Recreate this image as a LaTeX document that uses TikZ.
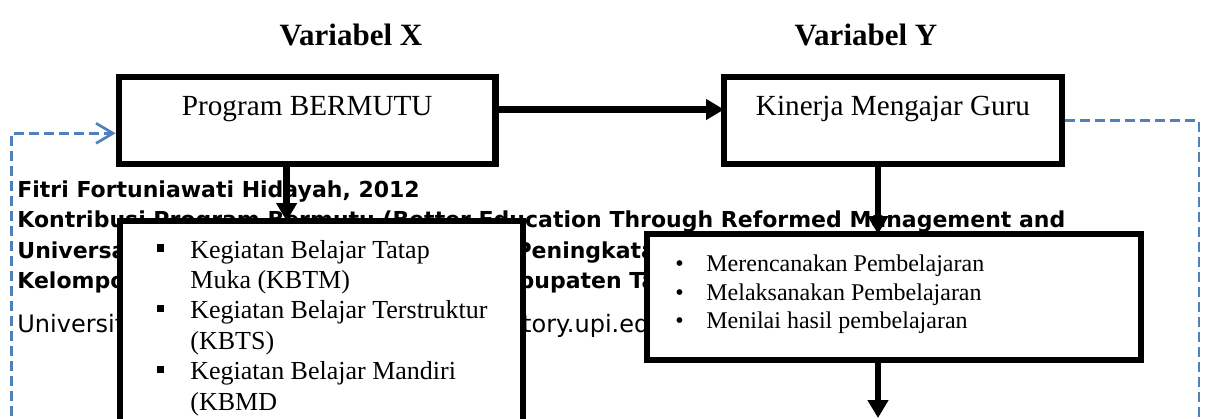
\documentclass[tikz,border=0pt]{standalone}
\usepackage{fontspec}
\setmainfont{Liberation Serif}
\newfontfamily\hurufTanda{DejaVu Sans}
\usetikzlibrary{arrows.meta}
\definecolor{biruPutus}{RGB}{79,129,189}
\newcommand{\kotakKecil}{\rule[3.2pt]{3.65pt}{3.65pt}}

\begin{document}
\begin{tikzpicture}[
  x=0.5pt, y=-0.5pt,
  kotak/.style={draw, line width=3.3pt, fill=white, inner sep=0pt, outer sep=0pt},
  judul/.style={font=\fontsize{15.5}{18}\selectfont\bfseries, anchor=base, inner sep=0pt},
  tanda/.style={font=\hurufTanda\fontsize{11}{13}\selectfont\bfseries, anchor=base west, inner sep=0pt},
  tandaTipis/.style={font=\hurufTanda\fontsize{12}{15}\selectfont, anchor=base west, inner sep=0pt},
  panah/.style={-{Triangle[length=9pt,width=10pt]}, line width=3.3pt},
  umpan/.style={-{Straight Barb[length=8.5pt,width=10pt]}, draw=biruPutus, line width=1.35pt, dash pattern=on 5pt off 2.5pt}
]
\useasboundingbox (0,0) rectangle (1210,418);
\clip (0,0) rectangle (1210,418);

% teks di belakang kotak
\node[tanda] (tanda1) at (17,197) {Fitri Fortuniawati Hidayah, 2012};
\node[tanda] (tanda2) at (17,227) {Kontribusi Program Bermutu (Better Education Through Reformed Management and};
\node[tanda] (tanda3) at (17,258) {Universal Teacher Upgrading) Terhadap Peningkatan Kinerja Mengajar Guru};
\node[tanda] (tanda4) at (17,288) {Kelompok Kerja Guru Sekolah Dasar Di\hspace{-10pt} Kabupaten Tasikmalaya};
\node[tandaTipis] (tanda5) at (17,332) {Universitas Pendidikan Indonesia \hspace{3pt}|\hspace{3pt} repository.upi.edu};

\node[judul] (varX) at (351,45) {Variabel X};
\node[judul] (varY) at (866,45) {Variabel Y};

\node[kotak, minimum width=188.25pt, text height=19pt, text depth=24.5pt,
  font=\fontsize{14.6}{17}\selectfont] (bermutu) at (307.25,120.5) {Program BERMUTU};
\node[kotak, minimum width=169pt, text height=19pt, text depth=24.5pt,
  font=\fontsize{14.6}{17}\selectfont] (kinerja) at (893,120.5) {Kinerja Mengajar Guru};

\node[kotak, minimum width=201.5pt, minimum height=114.5pt] (kegiatan) at (321.5,335.5) {};
\node[kotak, minimum width=247pt, minimum height=63pt] (menilai) at (894,297) {};

\node[anchor=base west, inner sep=0pt, font=\fontsize{13}{15.2}\selectfont] (butirKiri)
  at ([xshift=18.35pt,yshift=-18.5pt]kegiatan.north west) {%
  \begin{tabular}[t]{@{}l@{\hspace{13pt}}l@{}}
    \kotakKecil & Kegiatan Belajar Tatap\\
                & Muka (KBTM)\\
    \kotakKecil & Kegiatan Belajar Terstruktur\\
                & (KBTS)\\
    \kotakKecil & Kegiatan Belajar Mandiri\\
                & (KBMD
  \end{tabular}};
\node[anchor=base west, inner sep=0pt, font=\fontsize{12}{14.15}\selectfont] (butirKanan)
  at ([xshift=14pt,yshift=-18.85pt]menilai.north west) {%
  \begin{tabular}[t]{@{}l@{\hspace{11.3pt}}l@{}}
    \textbullet & Merencanakan Pembelajaran\\
    \textbullet & Melaksanakan Pembelajaran\\
    \textbullet & Menilai hasil pembelajaran
  \end{tabular}};

\draw[panah] ([yshift=5.5pt]bermutu.east) -- ([yshift=5.5pt]kinerja.west);
\draw[panah] ([xshift=-10.3pt]bermutu.south) -- ([xshift=-10.3pt]bermutu.south |- kegiatan.north);
\draw[panah] ([xshift=-7.5pt]kinerja.south) -- ([xshift=-7.5pt]kinerja.south |- menilai.north);
\coordinate (ujungBawah) at (878,418);
\draw[panah] ([xshift=-8pt]menilai.south) -- (ujungBawah);

% umpan balik
\coordinate (sudutKanan) at (1199,440);
\coordinate (sudutKiri) at (11.7,440);
\draw[umpan] ([xshift=1.65pt]kinerja.east) -| (sudutKanan) -| (sudutKiri)
  |- ([xshift=-1.65pt,yshift=-6.4pt]bermutu.west);

\end{tikzpicture}
\end{document}
